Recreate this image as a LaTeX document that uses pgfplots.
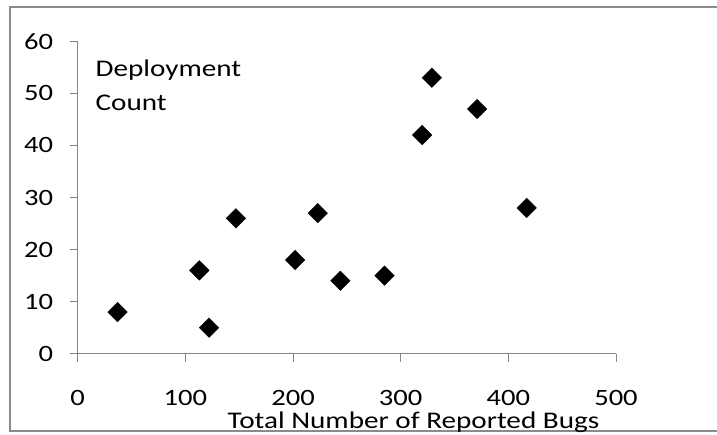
\documentclass[border=0pt]{standalone}
\usepackage{fontspec}
\setmainfont[FakeStretch=1.22]{Carlito}
\usepackage{pgfplots}
\pgfplotsset{compat=1.18}
\definecolor{axisgray}{HTML}{868686}
\definecolor{framegray}{HTML}{8A8A8A}
\begin{document}
\begin{tikzpicture}
\useasboundingbox (-77.7bp,-81.3bp) rectangle (639.3bp,353.7bp);
\draw[framegray, line width=2.5bp] (640bp,346.7bp) -- (-67.7bp,346.7bp) -- (-67.7bp,-77.3bp) -- (640bp,-77.3bp);
\begin{axis}[
  at={(0,0)}, anchor=south west, scale only axis,
  width=538.3bp, height=312.4bp,
  xmin=0,xmax=500,ymin=0,ymax=60,
  axis x line=bottom, axis y line=left,
  axis line style={axisgray, line width=1bp, -},
  xtick={0,100,...,500}, ytick={0,10,...,60},
  tick align=outside, major tick length=8bp,
  tick style={axisgray, line width=1bp},
  /pgf/number format/assume math mode=true,
  tick label style={font=\fontsize{23.5}{28}\selectfont, inner sep=0pt, text=black},
  xticklabel style={anchor=north, yshift=-28.3bp},
  yticklabel style={anchor=east, xshift=-16.4bp},
  xlabel={Total Number of Reported Bugs},
  every axis x label/.style={at={(rel axis cs:0.6238,0)}, anchor=base, yshift=-74.8bp, font=\fontsize{24}{28}\selectfont, inner sep=0pt},
  ylabel={Deployment\\Count},
  every axis y label/.style={at={(rel axis cs:0.033,0.94)}, anchor=north west, align=left, font=\fontsize{24}{34}\selectfont, inner sep=0pt},
  clip=false,
]
\addplot[only marks, mark=square*, mark size=6.9bp, mark options={rotate=45, fill=black, draw=black}] coordinates {
(37,8) (113,16) (122,5) (147,26) (202,18) (223,27) (244,14) (285,15) (320,42) (329,53) (371,47) (417,28)
};
\end{axis}
\end{tikzpicture}
\end{document}
